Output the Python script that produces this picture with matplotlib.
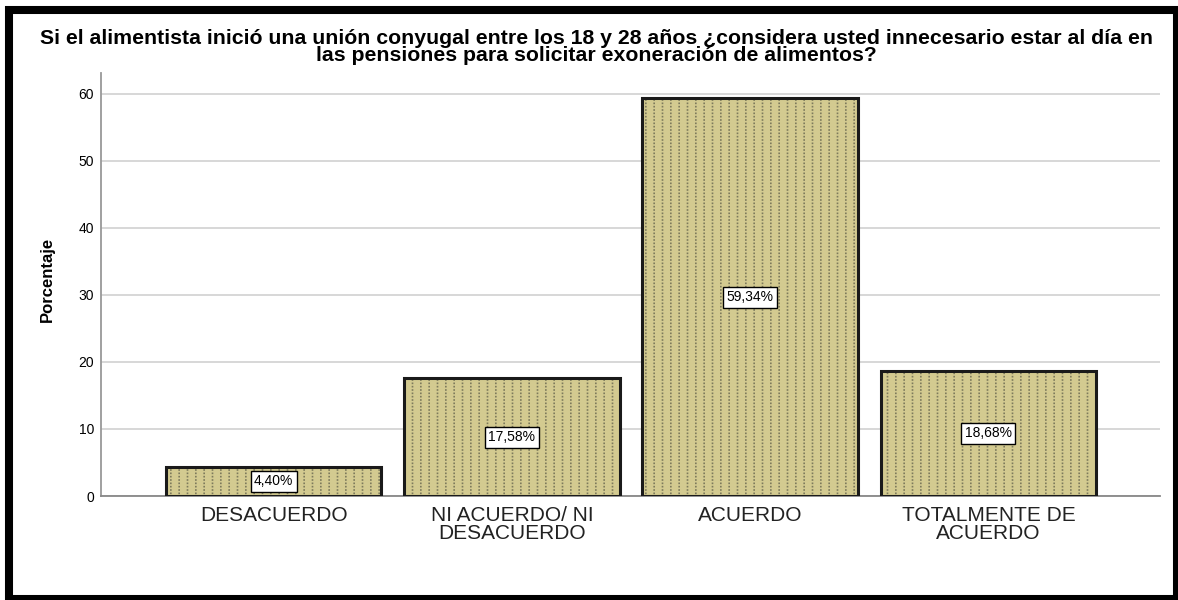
import matplotlib.pyplot as plt
from matplotlib.patches import Rectangle

categorias = ['DESACUERDO', 'NI ACUERDO/ NI\nDESACUERDO', 'ACUERDO', 'TOTALMENTE DE\nACUERDO']
porcentajes = [4.40, 17.58, 59.34, 18.68]
etiquetas = ['4,40%', '17,58%', '59,34%', '18,68%']
titulo = ('Si el alimentista inició una unión conyugal entre los 18 y 28 años ¿considera usted innecesario estar al día en\n'
          'las pensiones para solicitar exoneración de alimentos?')

plt.rcParams['font.family'] = ['Liberation Sans', 'DejaVu Sans']
plt.rcParams['hatch.linewidth'] = 1.2

fig = plt.figure(figsize=(11.78, 6), dpi=100)
ax = fig.add_axes([0.0857, 0.1733, 0.899, 0.705])

x = range(len(categorias))
fondo = '#d3ca90'
# lineas verticales grises, cortadas por lineas horizontales del color de fondo -> punteado
ax.bar(x, porcentajes, width=0.905, color=fondo, edgecolor='#7d7a5c',
       hatch='||', linewidth=0, zorder=2)
ax.bar(x, porcentajes, width=0.905, facecolor='none', edgecolor=fondo,
       hatch='-----', linewidth=0, zorder=2.5)
ax.bar(x, porcentajes, width=0.905, facecolor='none', edgecolor='#1a1a1a',
       linewidth=2.2, zorder=3)

for i, (v, txt) in enumerate(zip(porcentajes, etiquetas)):
    ax.text(i, v / 2, txt, ha='center', va='center', fontsize=10, zorder=4,
            bbox=dict(boxstyle='square,pad=0.25', facecolor='white', edgecolor='black', linewidth=1))

ax.set_xlim(-0.725, 3.72)
ax.set_ylim(0, 63.1)
ax.set_yticks([0, 10, 20, 30, 40, 50, 60])
ax.set_xticks(list(x))
ax.set_xticklabels(categorias, fontsize=15, color='#222222', linespacing=0.95)
ax.tick_params(axis='x', length=0, pad=7)
ax.tick_params(axis='y', length=0, labelsize=10, pad=5)
ax.yaxis.grid(True, color='#d4d4d4', linewidth=1.3, zorder=0)
ax.set_axisbelow(True)

for side in ['top', 'right']:
    ax.spines[side].set_visible(False)
ax.spines['left'].set_color('#999999')
ax.spines['left'].set_linewidth(1.3)
ax.spines['bottom'].set_color('#888888')
ax.spines['bottom'].set_linewidth(1.3)

ax.set_ylabel('Porcentaje', fontsize=12, fontweight='bold')
ax.yaxis.set_label_coords(-0.0434, 0.513)
fig.text(0.506, 1 - 61 / 600, titulo, ha='center', va='baseline', fontsize=15.3,
         fontweight='bold', linespacing=0.84)

# marco negro grueso
fig.patches.append(Rectangle((9 / 1178, 1 / 600), 1168 / 1178, 589 / 600,
                             transform=fig.transFigure, fill=False,
                             edgecolor='black', linewidth=5.8))

fig.savefig('out.png', dpi=100)
